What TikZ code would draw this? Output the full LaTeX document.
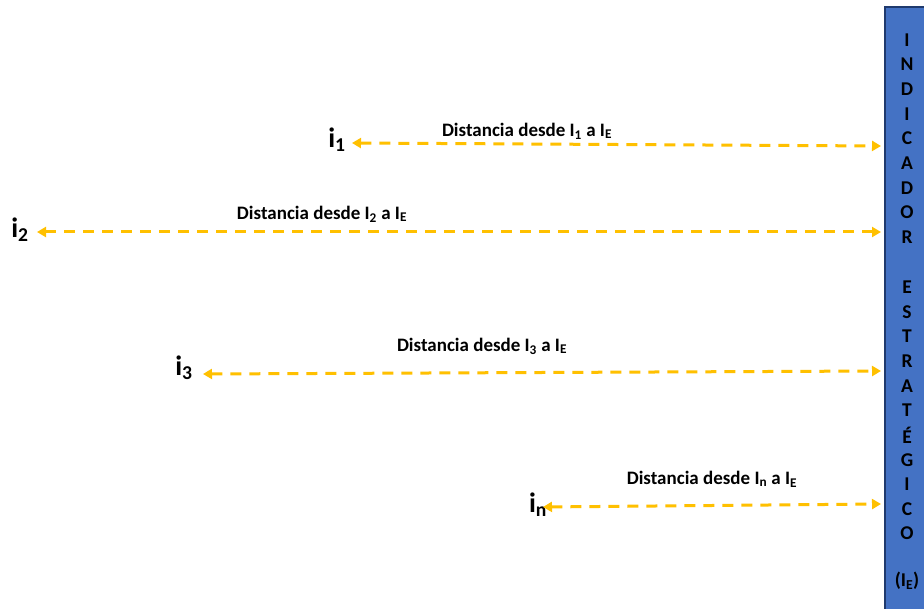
\documentclass[tikz,border=0pt]{standalone}
\usepackage{fontspec}
\setmainfont{Carlito}
\usetikzlibrary{arrows.meta}
\definecolor{barblue}{HTML}{4472C4}
\definecolor{barline}{HTML}{1F3A6E}
\definecolor{amber}{HTML}{FFC000}
\tikzset{
  dist/.style={draw=amber, line width=3pt, dash pattern=on 11pt off 8pt,
    {Triangle[length=9pt,width=10pt]}-{Triangle[length=9pt,width=10pt]}},
  lbl/.style={font=\bfseries\fontsize{19}{22}\selectfont, inner sep=0pt},
  ilbl/.style={font=\bfseries\fontsize{28}{32}\selectfont, inner sep=0pt},
  barletter/.style={font=\bfseries\fontsize{19.5}{22}\selectfont, inner sep=0pt}
}
\begin{document}
\begin{tikzpicture}[x=1pt,y=-1pt]
\useasboundingbox (0,0) rectangle (924,609);
\fill[white] (0,0) rectangle (924,609);
\draw[fill=barblue, draw=barline, line width=2pt] (885,7) rectangle (930,615);
\foreach \t/\y in {I/40,N/64.6,D/89,I/114,C/138.5,A/163,D/188,O/212,R/237,E/287,S/312,T/336,R/361,A/386,T/410,É/435,G/460,I/484,C/509,O/533}
  \node[barletter] at (907,\y) {\t};
\node[barletter] (ie) at (907,581) {(I\textsubscript{E})};

\coordinate (r1) at (881,146);
\coordinate (r2) at (881,232);
\coordinate (r3) at (881,371);
\coordinate (rn) at (881,504);

\node[ilbl] (i1) at (337,140) {i\textsubscript{1}};
\node[ilbl] (i2) at (20,230) {i\textsubscript{2}};
\node[ilbl] (i3) at (184,368) {i\textsubscript{3}};
\node[ilbl] (in) at (538,505) {i\textsubscript{n}};

\coordinate (l1) at (352,143);
\coordinate (l2) at (37,232);
\coordinate (l3) at (203,374);
\coordinate (ln) at (543,507);

\draw[dist] (l1) -- (r1);
\draw[dist] (l2) -- (r2);
\draw[dist] (l3) -- (r3);
\draw[dist] (ln) -- (rn);

\node[lbl] (d1) at (527,131) {Distancia desde I\textsubscript{1} a I\textsubscript{E}};
\node[lbl] (d2) at (322,214) {Distancia desde I\textsubscript{2} a I\textsubscript{E}};
\node[lbl] (d3) at (482,346) {Distancia desde I\textsubscript{3} a I\textsubscript{E}};
\node[lbl] (dn) at (712,479) {Distancia desde I\textsubscript{n} a I\textsubscript{E}};
\end{tikzpicture}
\end{document}
